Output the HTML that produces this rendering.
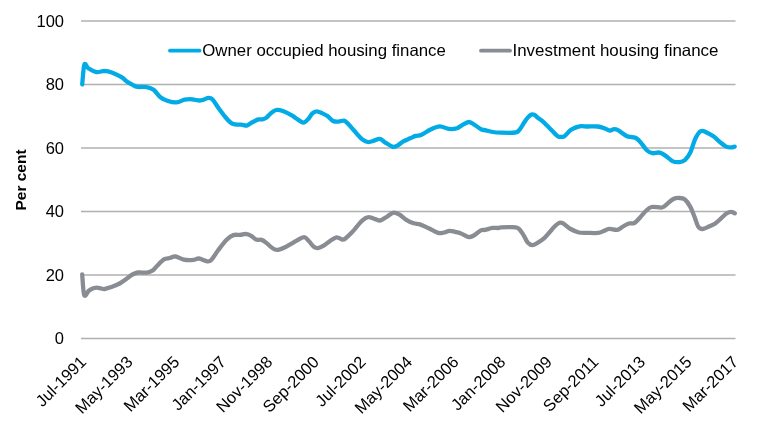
<!DOCTYPE html>
<html><head><meta charset="utf-8"><style>
html,body{margin:0;padding:0;background:#fff;}
body{width:760px;height:436px;overflow:hidden;}
svg{display:block;font-family:"Liberation Sans", sans-serif;will-change:transform;}
</style></head><body>
<svg width="760" height="436" viewBox="0 0 760 436">
<rect width="760" height="436" fill="#fff"/>
<line x1="81" y1="21.1" x2="735.5" y2="21.1" stroke="#b0b0b0" stroke-width="1.5"/>
<line x1="81" y1="84.6" x2="735.5" y2="84.6" stroke="#b0b0b0" stroke-width="1.5"/>
<line x1="81" y1="148.1" x2="735.5" y2="148.1" stroke="#b0b0b0" stroke-width="1.5"/>
<line x1="81" y1="211.6" x2="735.5" y2="211.6" stroke="#b0b0b0" stroke-width="1.5"/>
<line x1="81" y1="275.1" x2="735.5" y2="275.1" stroke="#b0b0b0" stroke-width="1.5"/>
<line x1="81" y1="338.6" x2="735.5" y2="338.6" stroke="#b0b0b0" stroke-width="1.5"/>
<text x="64" y="26.700000000000003" text-anchor="end" font-size="16.5" fill="#000" >100</text>
<text x="64" y="90.19999999999999" text-anchor="end" font-size="16.5" fill="#000" >80</text>
<text x="64" y="153.7" text-anchor="end" font-size="16.5" fill="#000" >60</text>
<text x="64" y="217.2" text-anchor="end" font-size="16.5" fill="#000" >40</text>
<text x="64" y="280.70000000000005" text-anchor="end" font-size="16.5" fill="#000" >20</text>
<text x="64" y="344.20000000000005" text-anchor="end" font-size="16.5" fill="#000" >0</text>
<text transform="translate(26 180) rotate(-90)" text-anchor="middle" font-size="15.5" font-weight="bold" >Per cent</text>
<line x1="170" y1="50.7" x2="199.5" y2="50.7" stroke="#03abe6" stroke-width="3.8" stroke-linecap="round"/>
<text x="202.3" y="56" font-size="16.5" textLength="243.5" lengthAdjust="spacingAndGlyphs">Owner occupied housing finance</text>
<line x1="481" y1="50.7" x2="510" y2="50.7" stroke="#898c93" stroke-width="3.8" stroke-linecap="round"/>
<text x="512.5" y="56" font-size="16.5" textLength="206" lengthAdjust="spacingAndGlyphs">Investment housing finance</text>
<path d="M82.2 274.4 C82.5 277.8 83.2 292.2 84.2 295.0 C85.2 297.8 87.3 292.0 88.5 291.0 C89.7 290.0 90.2 289.6 91.5 289.0 C92.8 288.4 95.0 287.7 96.6 287.6 C98.2 287.5 99.7 288.2 101.0 288.4 C102.3 288.6 103.0 289.2 104.7 289.0 C106.5 288.8 109.0 287.8 111.5 286.9 C114.0 286.0 116.9 285.0 119.6 283.5 C122.3 282.0 125.4 279.5 127.6 278.0 C129.8 276.5 130.8 275.4 132.5 274.5 C134.2 273.6 135.5 272.8 137.9 272.5 C140.3 272.2 144.7 272.9 147.1 272.6 C149.5 272.3 150.8 271.8 152.5 270.6 C154.2 269.5 155.3 267.6 157.2 265.7 C159.1 263.8 161.9 260.6 164.0 259.3 C166.1 258.0 168.1 258.5 170.0 258.0 C171.9 257.5 173.2 256.2 175.5 256.5 C177.8 256.8 180.8 259.0 183.8 259.6 C186.8 260.2 190.9 260.1 193.4 259.9 C195.9 259.7 196.6 258.3 198.9 258.5 C201.2 258.7 205.0 261.1 207.1 261.3 C209.2 261.5 209.5 261.7 211.3 259.9 C213.1 258.1 215.6 253.6 218.1 250.3 C220.6 247.0 223.9 242.4 226.4 239.9 C228.9 237.4 231.0 235.9 233.3 235.1 C235.6 234.3 238.1 235.1 240.2 234.9 C242.3 234.7 243.9 233.7 245.7 233.8 C247.5 234.0 249.5 234.8 251.2 235.8 C252.9 236.8 254.2 238.9 256.0 239.6 C257.8 240.3 259.9 239.3 261.7 239.9 C263.5 240.5 265.4 242.2 267.0 243.4 C268.6 244.7 270.2 246.4 271.5 247.4 C272.8 248.4 273.8 249.1 275.0 249.5 C276.2 249.9 277.5 249.9 279.0 249.6 C280.5 249.3 281.9 248.8 284.0 247.8 C286.1 246.8 289.4 244.8 291.5 243.6 C293.6 242.4 294.5 241.7 296.6 240.6 C298.7 239.5 302.1 237.0 304.2 237.1 C306.3 237.2 307.4 239.7 309.0 241.3 C310.6 242.9 312.3 245.7 313.8 246.8 C315.3 247.9 316.3 248.3 318.0 248.1 C319.7 247.9 322.2 246.5 324.1 245.4 C326.0 244.3 327.5 242.6 329.6 241.3 C331.7 240.0 334.3 237.7 336.5 237.4 C338.7 237.1 341.1 239.5 342.7 239.6 C344.3 239.7 344.3 239.3 346.0 238.0 C347.7 236.7 350.9 233.5 352.7 231.6 C354.5 229.7 355.7 228.0 357.0 226.4 C358.3 224.8 359.4 223.3 360.7 222.0 C361.9 220.7 363.1 219.6 364.5 218.8 C365.9 218.0 367.1 217.1 368.9 217.2 C370.7 217.2 373.2 218.6 375.1 219.1 C377.1 219.6 378.5 220.9 380.6 220.4 C382.7 219.9 385.3 217.6 387.5 216.3 C389.7 215.0 391.6 212.8 393.7 212.6 C395.8 212.4 397.7 213.6 399.9 214.9 C402.1 216.2 404.5 218.8 406.8 220.2 C409.1 221.6 411.3 222.6 413.6 223.3 C415.9 224.0 418.0 223.8 420.5 224.6 C423.0 225.4 425.9 226.9 428.8 228.3 C431.8 229.7 435.7 232.2 438.2 232.9 C440.7 233.6 442.0 232.8 443.9 232.5 C445.8 232.2 447.6 230.9 449.5 230.8 C451.4 230.7 453.2 231.4 455.0 231.8 C456.8 232.2 458.3 232.3 460.5 233.2 C462.7 234.0 466.0 236.4 468.1 236.9 C470.2 237.4 470.8 237.1 472.9 236.0 C475.0 234.9 479.0 231.4 481.0 230.4 C483.0 229.4 483.1 230.3 485.0 229.9 C486.9 229.5 490.2 228.2 492.4 227.9 C494.6 227.6 496.6 228.1 498.0 228.0 C499.4 227.9 499.2 227.4 501.0 227.3 C502.8 227.2 506.2 227.2 508.6 227.2 C511.0 227.2 513.6 227.0 515.3 227.3 C517.0 227.6 517.6 227.6 519.0 228.8 C520.4 230.1 521.9 232.5 523.4 234.8 C524.9 237.1 526.3 241.1 527.9 242.8 C529.5 244.5 531.1 245.2 532.7 245.2 C534.3 245.2 535.6 243.9 537.5 242.8 C539.4 241.7 541.9 240.2 544.0 238.4 C546.1 236.6 548.3 233.7 550.0 231.8 C551.7 229.9 552.5 228.5 554.1 227.0 C555.7 225.5 558.0 223.3 559.6 222.8 C561.2 222.3 562.0 222.8 563.8 223.8 C565.6 224.8 568.1 227.6 570.6 229.0 C573.1 230.4 575.9 231.8 578.9 232.5 C581.9 233.2 585.3 232.8 588.5 232.9 C591.7 233.0 595.6 233.2 598.1 232.9 C600.6 232.6 601.8 231.8 603.6 231.1 C605.5 230.4 606.9 229.0 609.2 228.8 C611.5 228.6 614.9 230.2 617.2 229.8 C619.5 229.4 621.1 227.6 623.0 226.5 C624.9 225.4 626.8 224.1 628.7 223.5 C630.6 222.9 632.4 224.1 634.4 223.0 C636.4 221.9 638.6 219.0 640.5 217.0 C642.4 215.0 643.9 212.7 645.8 211.0 C647.6 209.3 648.9 207.6 651.6 207.0 C654.3 206.4 659.4 207.9 661.9 207.5 C664.4 207.1 664.6 205.9 666.5 204.5 C668.4 203.1 671.2 200.1 673.4 199.0 C675.6 197.9 677.6 197.9 679.5 198.0 C681.4 198.1 683.2 198.2 684.9 199.5 C686.6 200.8 688.3 203.3 689.9 206.1 C691.5 208.9 692.9 212.8 694.3 216.2 C695.7 219.6 696.8 224.5 698.2 226.6 C699.6 228.7 700.6 229.1 702.5 229.0 C704.4 228.9 707.4 227.2 709.5 226.3 C711.6 225.4 713.4 224.7 715.3 223.4 C717.2 222.1 719.2 220.1 721.1 218.4 C723.0 216.7 725.1 214.4 726.8 213.3 C728.5 212.2 729.9 211.8 731.2 211.8 C732.5 211.8 734.2 213.1 734.8 213.3" fill="none" stroke="#898c93" stroke-width="4.3" stroke-linejoin="round" stroke-linecap="round"/>
<path d="M82.2 84.4 C82.6 81.1 83.4 67.3 84.4 64.6 C85.4 61.9 86.4 67.0 88.4 68.3 C90.4 69.5 93.7 71.7 96.4 72.1 C99.1 72.5 102.0 70.9 104.6 70.9 C107.2 71.0 109.0 71.4 111.8 72.4 C114.6 73.5 118.9 75.6 121.5 77.2 C124.1 78.8 125.4 80.5 127.2 81.8 C129.0 83.1 130.8 83.9 132.5 84.8 C134.2 85.7 135.1 86.5 137.5 86.9 C139.9 87.3 144.0 86.6 146.7 87.1 C149.4 87.6 151.3 88.1 153.6 89.8 C155.9 91.5 158.1 95.4 160.4 97.2 C162.7 99.0 164.6 99.8 167.3 100.7 C170.0 101.6 173.6 102.6 176.5 102.4 C179.4 102.2 182.2 100.2 184.5 99.7 C186.8 99.2 188.4 99.1 190.0 99.1 C191.6 99.1 192.4 99.4 194.0 99.6 C195.6 99.8 197.9 100.5 199.5 100.5 C201.1 100.5 202.1 100.0 203.6 99.6 C205.1 99.2 207.0 97.9 208.5 97.9 C210.0 97.9 210.9 97.8 212.6 99.6 C214.3 101.4 216.6 105.5 218.8 108.5 C221.0 111.5 223.7 115.1 225.7 117.5 C227.7 119.9 229.2 121.6 230.8 122.8 C232.4 124.0 233.7 124.1 235.4 124.4 C237.1 124.7 239.3 124.4 241.2 124.6 C243.1 124.8 245.3 125.7 246.9 125.5 C248.5 125.3 249.3 124.0 250.5 123.3 C251.7 122.6 252.7 122.2 254.0 121.5 C255.3 120.8 257.0 119.8 258.4 119.4 C259.8 119.1 261.1 119.7 262.5 119.4 C263.9 119.1 265.2 118.6 266.5 117.6 C267.8 116.6 268.9 114.9 270.5 113.6 C272.1 112.3 274.0 110.4 276.2 110.0 C278.4 109.6 280.9 110.4 283.5 111.3 C286.1 112.2 289.4 114.0 291.8 115.4 C294.2 116.8 296.1 118.4 298.0 119.6 C299.9 120.8 301.8 122.8 303.5 122.7 C305.2 122.6 306.8 120.5 308.3 118.9 C309.8 117.4 311.0 114.7 312.4 113.4 C313.8 112.1 314.9 111.3 316.5 111.3 C318.1 111.2 320.2 112.3 322.0 113.1 C323.8 113.9 325.7 114.8 327.5 116.1 C329.3 117.4 331.2 120.1 333.0 121.0 C334.8 121.9 336.6 121.7 338.5 121.6 C340.4 121.5 342.5 120.2 344.1 120.6 C345.7 121.0 346.7 122.5 348.3 124.1 C349.9 125.7 351.5 127.8 353.8 130.3 C356.1 132.8 359.7 137.2 362.0 139.2 C364.3 141.1 365.7 141.7 367.5 142.0 C369.3 142.3 370.9 141.5 373.0 141.0 C375.1 140.5 377.8 138.6 379.9 138.9 C382.0 139.2 383.2 141.3 385.4 142.6 C387.6 143.9 390.9 146.3 393.0 146.8 C395.1 147.3 396.1 146.3 397.8 145.4 C399.5 144.5 401.2 142.5 403.3 141.3 C405.4 140.1 408.1 139.2 410.2 138.3 C412.3 137.4 413.8 136.5 415.7 135.9 C417.6 135.3 419.0 135.8 421.5 134.7 C424.0 133.6 427.6 130.9 430.6 129.5 C433.7 128.1 436.8 126.4 439.8 126.3 C442.8 126.2 445.9 128.6 448.8 128.9 C451.7 129.2 454.7 128.9 457.0 128.2 C459.3 127.5 460.6 125.8 462.5 124.8 C464.4 123.8 466.9 122.1 468.7 122.0 C470.5 121.9 471.4 122.9 473.5 124.1 C475.6 125.3 479.0 128.2 481.1 129.2 C483.2 130.2 483.9 129.8 485.9 130.3 C487.8 130.8 490.3 131.6 492.8 132.0 C495.3 132.4 498.2 132.6 501.0 132.7 C503.8 132.8 506.9 132.8 509.3 132.8 C511.7 132.8 514.0 132.7 515.4 132.5 C516.8 132.3 516.9 132.3 517.9 131.5 C518.9 130.7 520.0 129.0 521.1 127.5 C522.2 126.0 523.2 123.9 524.3 122.3 C525.4 120.7 526.3 119.2 527.5 117.9 C528.7 116.6 530.3 115.1 531.5 114.6 C532.7 114.1 533.6 114.5 534.7 115.0 C535.8 115.5 536.7 117.0 537.9 117.9 C539.1 118.9 540.8 119.8 542.0 120.7 C543.2 121.6 543.6 122.1 545.0 123.5 C546.4 124.9 548.5 127.1 550.6 129.2 C552.7 131.3 556.1 135.0 557.8 136.3 C559.5 137.6 559.9 136.8 561.0 136.8 C562.1 136.8 562.8 137.4 564.5 136.2 C566.2 135.0 568.5 131.5 571.0 129.8 C573.5 128.2 576.7 126.8 579.5 126.3 C582.3 125.8 584.8 126.5 587.8 126.5 C590.8 126.5 594.6 126.2 597.4 126.5 C600.1 126.8 602.2 127.5 604.3 128.2 C606.4 128.9 608.2 130.3 609.8 130.5 C611.4 130.7 612.5 129.2 613.9 129.2 C615.3 129.1 615.9 129.1 618.0 130.2 C620.1 131.3 624.2 134.8 626.5 136.0 C628.8 137.2 630.4 136.8 632.0 137.2 C633.6 137.6 634.6 137.3 636.1 138.2 C637.6 139.1 639.0 140.5 640.8 142.6 C642.6 144.7 645.1 148.7 647.1 150.5 C649.1 152.3 650.5 152.8 652.6 153.2 C654.7 153.5 657.5 152.1 659.7 152.6 C662.0 153.1 664.0 154.7 666.1 156.1 C668.2 157.5 670.2 160.1 672.4 161.1 C674.6 162.1 677.4 162.3 679.5 162.1 C681.6 161.9 683.2 161.7 685.0 160.0 C686.8 158.3 688.8 155.7 690.5 152.1 C692.2 148.5 693.6 142.2 695.3 138.7 C697.0 135.2 698.8 132.1 700.8 131.1 C702.8 130.1 705.0 131.8 707.1 132.7 C709.2 133.6 711.3 134.8 713.4 136.3 C715.5 137.8 717.6 140.1 719.7 141.8 C721.8 143.5 724.2 145.7 726.1 146.6 C728.0 147.5 729.4 147.4 730.8 147.4 C732.2 147.4 734.1 146.7 734.7 146.6" fill="none" stroke="#03abe6" stroke-width="4.3" stroke-linejoin="round" stroke-linecap="round"/>
<text transform="translate(87.2 362.9) rotate(-45)" text-anchor="end" font-size="16.5" >Jul-1991</text>
<text transform="translate(133.8 362.9) rotate(-45)" text-anchor="end" font-size="16.5" >May-1993</text>
<text transform="translate(180.4 362.9) rotate(-45)" text-anchor="end" font-size="16.5" >Mar-1995</text>
<text transform="translate(226.9 362.9) rotate(-45)" text-anchor="end" font-size="16.5" >Jan-1997</text>
<text transform="translate(273.5 362.9) rotate(-45)" text-anchor="end" font-size="16.5" >Nov-1998</text>
<text transform="translate(320.1 362.9) rotate(-45)" text-anchor="end" font-size="16.5" >Sep-2000</text>
<text transform="translate(366.7 362.9) rotate(-45)" text-anchor="end" font-size="16.5" >Jul-2002</text>
<text transform="translate(413.3 362.9) rotate(-45)" text-anchor="end" font-size="16.5" >May-2004</text>
<text transform="translate(459.8 362.9) rotate(-45)" text-anchor="end" font-size="16.5" >Mar-2006</text>
<text transform="translate(506.4 362.9) rotate(-45)" text-anchor="end" font-size="16.5" >Jan-2008</text>
<text transform="translate(553.0 362.9) rotate(-45)" text-anchor="end" font-size="16.5" >Nov-2009</text>
<text transform="translate(599.6 362.9) rotate(-45)" text-anchor="end" font-size="16.5" >Sep-2011</text>
<text transform="translate(646.2 362.9) rotate(-45)" text-anchor="end" font-size="16.5" >Jul-2013</text>
<text transform="translate(692.7 362.9) rotate(-45)" text-anchor="end" font-size="16.5" >May-2015</text>
<text transform="translate(739.3 362.9) rotate(-45)" text-anchor="end" font-size="16.5" >Mar-2017</text>
</svg>
</body></html>
